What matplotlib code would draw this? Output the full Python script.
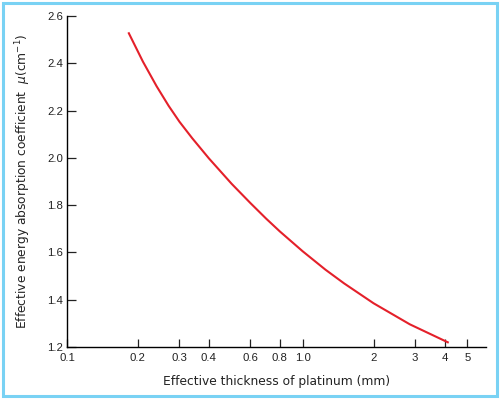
import matplotlib
matplotlib.use("Agg")
import matplotlib.pyplot as plt
from matplotlib.patches import Rectangle

# Data
thickness = [0.183, 0.21, 0.24, 0.27, 0.30, 0.34, 0.40, 0.50, 0.60, 0.70, 0.80,
             1.0, 1.25, 1.5, 2.0, 2.85, 4.13]
mu = [2.527, 2.407, 2.303, 2.22, 2.153, 2.083, 1.998, 1.89, 1.809, 1.743, 1.689,
      1.605, 1.527, 1.469, 1.385, 1.296, 1.22]

x_ticks = [0.1, 0.2, 0.3, 0.4, 0.6, 0.8, 1.0, 2, 3, 4, 5]
x_ticklabels = ['0.1', '0.2', '0.3', '0.4', '0.6', '0.8', '1.0', '2', '3', '4', '5']
y_ticks = [1.2, 1.4, 1.6, 1.8, 2.0, 2.2, 2.4, 2.6]
y_ticklabels = ['1.2', '1.4', '1.6', '1.8', '2.0', '2.2', '2.4', '2.6']

plt.rcParams['font.family'] = ['Liberation Sans', 'DejaVu Sans']
plt.rcParams['mathtext.fontset'] = 'custom'
plt.rcParams['mathtext.rm'] = 'DejaVu Sans'
plt.rcParams['mathtext.it'] = 'DejaVu Sans:italic'

fig = plt.figure(figsize=(5.0, 3.99), dpi=100)
ax = fig.add_axes([0.134, 0.1303, 0.838, 0.8296])

ax.plot(thickness, mu, color='#e4202a', lw=1.5, solid_joinstyle='round')

ax.set_xscale('log')
ax.set_xlim(0.1, 6.0)
ax.set_ylim(1.2, 2.6)
ax.set_xticks(x_ticks)
ax.set_xticklabels(x_ticklabels)
ax.minorticks_off()
ax.set_yticks(y_ticks)
ax.set_yticklabels(y_ticklabels)

for s in ['top', 'right']:
    ax.spines[s].set_visible(False)
ax.spines['left'].set_linewidth(1.0)
ax.spines['bottom'].set_linewidth(1.0)

ax.tick_params(axis='x', direction='in', length=6, width=0.9, pad=4,
               labelsize=8.2, colors='#222222')
ax.tick_params(axis='y', direction='in', length=6.5, width=0.9, pad=3,
               labelsize=8.2, colors='#222222')

ax.set_xlabel('Effective thickness of platinum (mm)', fontsize=8.8, labelpad=9,
              color='#222222', family='DejaVu Sans')
ax.set_ylabel(r'Effective energy absorption coefficient  $\mu$(cm$^{-1}$)',
              fontsize=8.8, labelpad=10, color='#222222', family='DejaVu Sans')

fig.patches.append(Rectangle((2.5 / 500, 3.0 / 399), 494 / 500, 393.5 / 399,
                             transform=fig.transFigure, fill=False,
                             edgecolor='#79d2f4', lw=2.2, zorder=10))

fig.savefig('out.png', dpi=100)
